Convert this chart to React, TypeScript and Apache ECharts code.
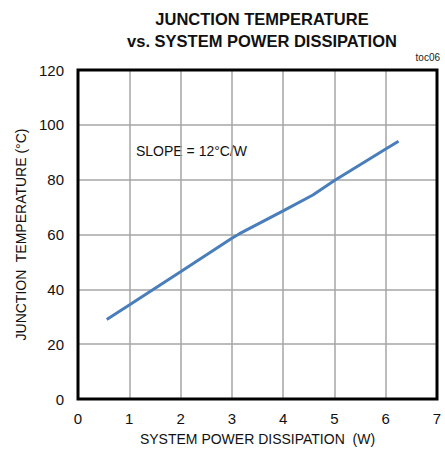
import React, { useEffect, useRef } from "react";
import * as echarts from "echarts";

const powerW = [0.56, 1, 2, 3, 3.15, 4, 4.58, 5, 6, 6.25];
const tempC = [29, 34.3, 46.4, 58.6, 60.3, 68.6, 74.4, 79.7, 91.2, 94];
const xTicks = [0, 1, 2, 3, 4, 5, 6, 7];
const yTicks = [0, 20, 40, 60, 80, 100, 120];

export default function App() {
  const ref = useRef<HTMLDivElement>(null);
  useEffect(() => {
    if (!ref.current) return;
    const chart = echarts.init(ref.current, undefined, { renderer: "svg" });
    const font = "'Liberation Sans', Arial, sans-serif";
    chart.setOption({
      animation: false,
      title: {
        text: "JUNCTION TEMPERATURE\nvs. SYSTEM POWER DISSIPATION",
        left: 257,
        textAlign: "center",
        top: 3,
        textStyle: {
          fontFamily: "'Liberation Sans Narrow', 'Liberation Sans', Arial, sans-serif",
          fontWeight: "bold",
          fontSize: 16.5,
          lineHeight: 22,
          color: "#111",
        },
      },
      graphic: [
        {
          type: "text",
          right: 5,
          top: 52,
          style: { text: "toc06", font: `10px ${font}`, fill: "#222" },
        },
        {
          type: "text",
          left: 136,
          top: 144,
          style: { text: "SLOPE = 12°C/W", font: `14px ${font}`, fill: "#111" },
        },
      ],
      grid: {
        left: 78,
        right: 8,
        top: 70,
        bottom: 61,
        show: true,
        borderColor: "#000",
        borderWidth: 3,
        backgroundColor: "transparent",
        z: 10,
      },
      xAxis: {
        type: "value",
        min: xTicks[0],
        max: xTicks[xTicks.length - 1],
        interval: 1,
        name: "SYSTEM POWER DISSIPATION  (W)",
        nameLocation: "middle",
        nameGap: 33,
        nameTextStyle: { fontFamily: font, fontSize: 14, color: "#111" },
        axisLine: { show: false },
        axisTick: { show: false },
        axisLabel: { fontFamily: font, fontSize: 15, color: "#111", margin: 12 },
        splitLine: { show: true, showMinLine: false, showMaxLine: false, lineStyle: { color: "#a6a6a6", width: 1.5 } },
      },
      yAxis: {
        type: "value",
        min: yTicks[0],
        max: yTicks[yTicks.length - 1],
        interval: 20,
        name: "JUNCTION  TEMPERATURE (°C)",
        nameLocation: "middle",
        nameGap: 48,
        nameTextStyle: { fontFamily: font, fontSize: 14, color: "#111" },
        axisLine: { show: false },
        axisTick: { show: false },
        axisLabel: { fontFamily: font, fontSize: 15, color: "#111", margin: 14 },
        splitLine: { show: true, showMinLine: false, showMaxLine: false, lineStyle: { color: "#a6a6a6", width: 1.5 } },
      },
      series: [
        {
          type: "line",
          data: powerW.map((x, i) => [x, tempC[i]]),
          showSymbol: false,
          smooth: false,
          lineStyle: { color: "#4a7ebb", width: 3 },
        },
      ],
    });
    return () => chart.dispose();
  }, []);
  return <div ref={ref} style={{ width: 445, height: 460, position: "absolute", left: 0, top: 0 }} />;
}
